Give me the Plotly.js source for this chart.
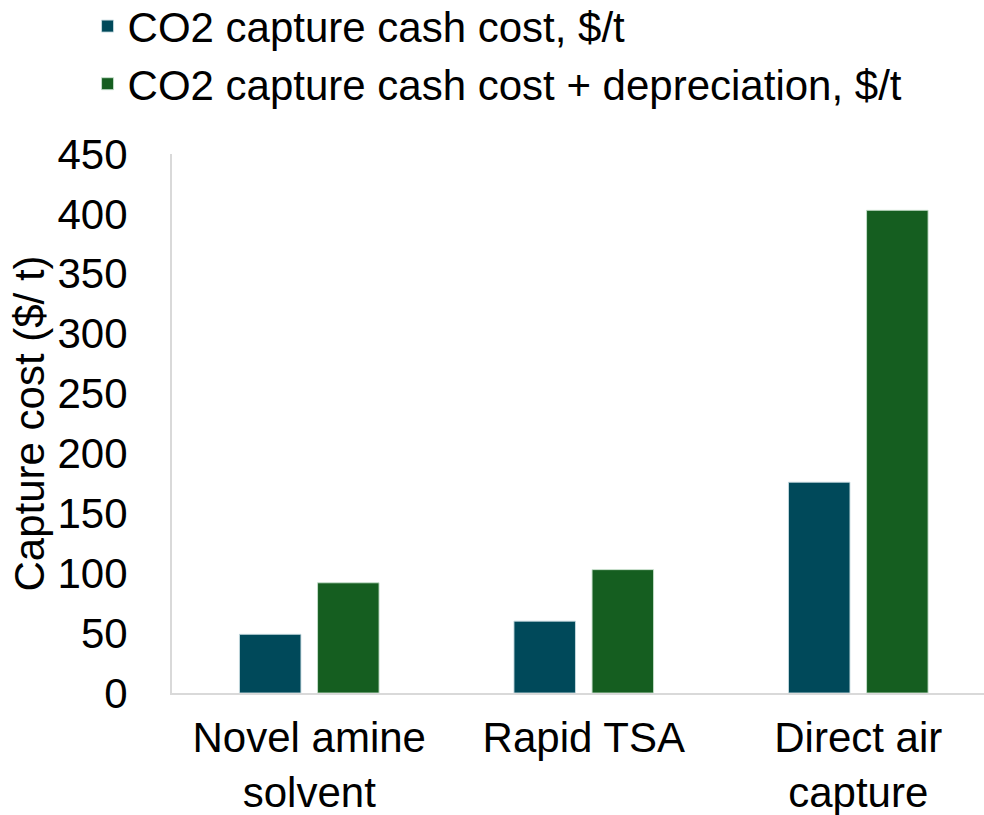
<!DOCTYPE html>
<html>
<head>
<meta charset="utf-8">
<script src="https://cdn.plot.ly/plotly-3.0.1.min.js"></script>
<style>html,body{margin:0;padding:0;background:#fff;}#chart{width:984px;height:815px;}</style>
</head>
<body>
<div id="chart"></div>
<script>
const categories = ["Novel amine<br>solvent", "Rapid TSA", "Direct air<br>capture"];
const seriesNames = ["CO2 capture cash cost, $/t", "CO2 capture cash cost + depreciation, $/t"];
const cashCost = [49, 60, 176];
const cashPlusDep = [92, 103, 403];
const yTicks = [0, 50, 100, 150, 200, 250, 300, 350, 400, 450];

const FONT = "Liberation Sans, Arial, sans-serif";
const traces = [
  {type: "bar", name: seriesNames[0], x: categories, y: cashCost,
   marker: {color: "#00495A", line: {color: "rgba(200,220,225,0.9)", width: 1}}},
  {type: "bar", name: seriesNames[1], x: categories, y: cashPlusDep,
   marker: {color: "#155E20", line: {color: "rgba(200,225,205,0.9)", width: 1}}}
];

const layout = {
  width: 984, height: 815,
  margin: {l: 172, r: 0, t: 154, b: 122, autoexpand: false},
  paper_bgcolor: "#fff", plot_bgcolor: "#fff",
  font: {family: FONT, size: 42, color: "#000"},
  barmode: "group", bargap: 0.431, bargroupgap: 0.2125,
  showlegend: true,
  legend: {x: -0.104, xanchor: "left", y: 1.30, yanchor: "top",
           font: {family: FONT, size: 42, color: "#000"}, bgcolor: "rgba(0,0,0,0)"},
  xaxis: {range: [-0.5, 2.458], showline: true, linecolor: "#d9d9d9", linewidth: 2,
          showgrid: false, zeroline: false, ticks: "", ticklabelstandoff: 7,
          tickfont: {family: FONT, size: 42, color: "#000"}},
  yaxis: {range: [0, 450], tickvals: yTicks, ticktext: yTicks.map(String),
          showline: true, linecolor: "#d9d9d9", linewidth: 2,
          showgrid: false, zeroline: false, ticks: "", ticklabelstandoff: 34,
          tickfont: {family: FONT, size: 42, color: "#000"},
          title: {text: "Capture cost ($/ t)", font: {family: FONT, size: 42, color: "#000"}, standoff: 0}}
};

Plotly.newPlot("chart", traces, layout, {displayModeBar: false, staticPlot: true});
</script>
</body>
</html>
